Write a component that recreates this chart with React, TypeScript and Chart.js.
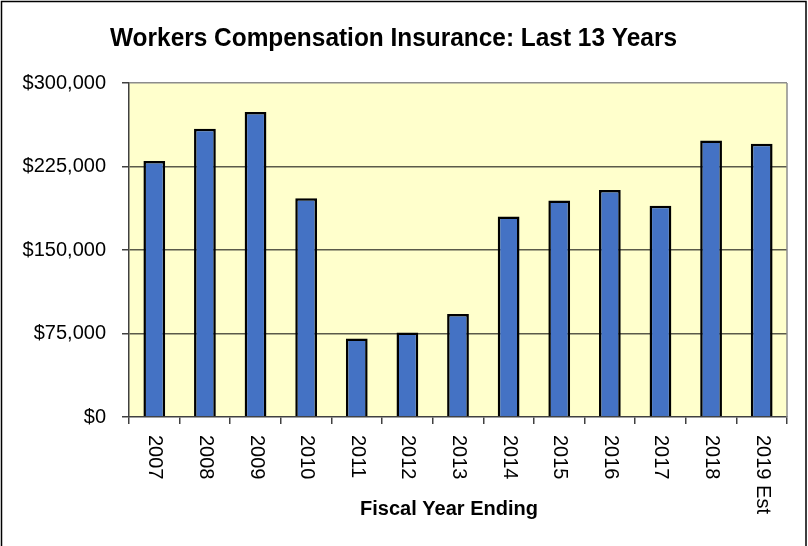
import React, { useEffect, useRef } from "react";
import { Chart, registerables } from "chart.js";

Chart.register(...registerables);

const TITLE = "Workers Compensation Insurance: Last 13 Years";
const X_TITLE = "Fiscal Year Ending";
const categories = ["2007", "2008", "2009", "2010", "2011", "2012", "2013", "2014", "2015", "2016", "2017", "2018", "2019 Est"];
const premiums = [230000, 259000, 274000, 196500, 70500, 76000, 92500, 180000, 194500, 204000, 189800, 248300, 245400];
const yTicks = [0, 75000, 150000, 225000, 300000];

const FONT = "'Liberation Sans', Arial, sans-serif";

export default function App() {
  const ref = useRef<HTMLCanvasElement | null>(null);

  useEffect(() => {
    const canvas = ref.current;
    if (!canvas) return;

    const decor = {
      id: "decor",
      beforeDraw(chart: any) {
        const { ctx, chartArea: a } = chart;
        ctx.save();
        ctx.fillStyle = "#FFFFCC";
        ctx.fillRect(a.left, a.top, a.right - a.left, a.bottom - a.top);
        ctx.restore();
      },
      afterDraw(chart: any) {
        const { ctx, chartArea: a, scales } = chart;
        ctx.save();
        // right plot border
        ctx.strokeStyle = "#8C8C8C";
        ctx.lineWidth = 1.5;
        ctx.beginPath();
        ctx.moveTo(a.right, a.top);
        ctx.lineTo(a.right, a.bottom);
        ctx.stroke();
        // outer frame
        ctx.strokeStyle = "#000";
        ctx.lineWidth = 1.5;
        ctx.beginPath();
        ctx.moveTo(1.5, 546);
        ctx.lineTo(1.5, 1.5);
        ctx.lineTo(806, 1.5);
        ctx.lineTo(806, 546);
        ctx.stroke();
        // title
        ctx.fillStyle = "#000";
        ctx.font = `bold 25px ${FONT}`;
        ctx.textAlign = "center";
        ctx.textBaseline = "alphabetic";
        ctx.fillText(TITLE, 393.5, 46, 567);
        // x title
        ctx.font = `bold 20px ${FONT}`;
        ctx.fillText(X_TITLE, 449, 515, 181);
        // rotated x labels
        const x = scales.x;
        ctx.font = `20px ${FONT}`;
        ctx.fillStyle = "#000";
        ctx.textAlign = "left";
        ctx.textBaseline = "middle";
        categories.forEach((c, i) => {
          const px = x.getPixelForValue(i);
          ctx.save();
          ctx.translate(px + 0.5, a.bottom + 18);
          ctx.rotate(Math.PI / 2);
          ctx.fillText(c, 0, 0);
          ctx.restore();
        });
        ctx.restore();
      },
    };

    const chart = new Chart(canvas, {
      type: "bar",
      data: {
        labels: categories,
        datasets: [
          {
            data: premiums,
            backgroundColor: "#4472C4",
            borderColor: "#000000",
            borderWidth: 2.5,
            barPercentage: 0.43,
            categoryPercentage: 1,
          },
        ],
      },
      options: {
        animation: false,
        responsive: false,
        maintainAspectRatio: false,
        layout: { padding: { left: 0, right: 21, top: 83, bottom: 0 } },
        plugins: {
          legend: { display: false },
          title: { display: false },
          tooltip: { enabled: false },
        },
        scales: {
          x: {
            offset: true,
            grid: {
              display: true,
              offset: true,
              drawOnChartArea: false,
              drawTicks: true,
              tickLength: 7,
              tickColor: "#404040",
              lineWidth: 1.5,
            },
            border: { display: true, color: "#404040", width: 1.5 },
            ticks: { display: false },
            afterFit(scale: any) {
              scale.height = 129;
            },
          },
          y: {
            min: 0,
            max: 300000,
            afterBuildTicks(scale: any) {
              scale.ticks = yTicks.map((v) => ({ value: v }));
            },
            grid: {
              color: (c: any) => (c.tick && c.tick.value === 300000 ? "#8C8C8C" : c.tick && c.tick.value === 0 ? "rgba(0,0,0,0)" : "#5A5A4A"),
              lineWidth: 1.5,
              tickLength: 7,
              tickColor: "#404040",
            },
            border: { display: true, color: "#404040", width: 1.5 },
            ticks: {
              padding: 16,
              color: "#000",
              font: { family: FONT, size: 20 },
              callback: (v: any) => "$" + Number(v).toLocaleString("en-US"),
            },
            afterFit(scale: any) {
              scale.width = 129;
            },
          },
        },
      },
      plugins: [decor],
    });

    return () => chart.destroy();
  }, []);

  return (
    <div style={{ position: "fixed", left: 0, top: 0, width: 808, height: 546, background: "#fff" }}>
      <canvas ref={ref} width={808} height={546} style={{ width: 808, height: 546, display: "block" }} />
    </div>
  );
}
